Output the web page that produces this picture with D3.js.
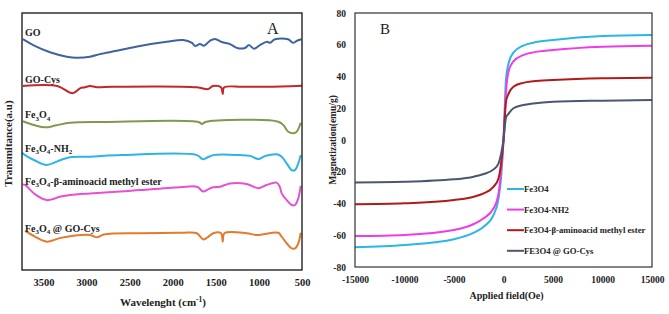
<!DOCTYPE html>
<html>
<head>
<meta charset="utf-8">
<script src="https://cdn.jsdelivr.net/npm/d3@7"></script>
<style>
  body { margin: 0; background: #fff; }
  svg { display: block; }
  text { font-family: "Liberation Serif", "Times New Roman", serif; }
</style>
</head>
<body>
<svg width="669" height="314"></svg>
<script>
// ---- panel A data: FTIR spectra, [wavenumber cm-1, transmittance a.u. (stacked)]
const ftirNames = ['GO', 'GO-Cys', 'Fe3O4', 'Fe3O4-NH2', 'Fe3O4-β-aminoacid methyl ester', 'Fe3O4 @ GO-Cys']
const ftirColors = ['#3d64a0', '#c2272b', '#80994c', '#2db4e6', '#e94fd4', '#e27b2c']

const goSpec = [[3740,89.8],[3620,87.5],[3425,84.7],[3230,83.0],[3115,82.6],[2960,83.0],[2845,84.0],[2650,85.3],
  [2380,87.2],[2070,88.8],[1880,89.5],[1777,88.4],[1742,87.2],[1684,87.9],[1637,87.3],[1569,89.2],[1510,89.9],
  [1429,88.7],[1336,87.9],[1243,86.3],[1162,86.4],[1115,87.5],[1057,86.1],[988,87.5],[906,88.8],[871,88.4],
  [813,89.8],[662,89.8],[604,88.4],[558,89.2],[505,89.8]]
const goCysSpec = [[3740,71.6],[3344,71.6],[3161,68.8],[3077,70.7],[3019,71.1],[2961,71.6],[2880,71.1],[2700,71.3],
  [1719,71.1],[1591,70.4],[1533,71.6],[1440,71.1],[1420,68.5],[1405,71.0],[1200,71.3],[906,71.3],[500,71.7]]
const fe3o4Spec = [[3738,57.9],[3600,56.3],[3483,55.5],[3350,56.3],[3193,57.3],[2800,57.6],[1700,57.6],[1661,56.8],
  [1620,57.6],[775,57.7],[717,56.4],[659,53.8],[601,53.2],[562,53.8],[515,57.3]]
const nh2Spec = [[3750,45.6],[3715,44.7],[3600,42.6],[3463,40.9],[3300,42.8],[3193,43.9],[2961,44.1],[2600,44.7],
  [1720,44.7],[1653,43.1],[1610,43.6],[1530,44.7],[1220,44.7],[1104,44.4],[1007,43.2],[930,44.3],[794,45.0],
  [736,44.1],[678,41.5],[620,38.9],[581,38.9],[543,41.5],[515,44.7]]
const esterSpec = [[3740,33.3],[3715,33.1],[3600,29.5],[3463,27.2],[3300,28.6],[3193,29.2],[2961,29.8],[2612,30.5],
  [2380,31.1],[1916,32.2],[1719,32.4],[1646,30.5],[1591,31.4],[1530,32.2],[1452,32.4],[1336,33.7],[1143,33.5],
  [1007,31.8],[910,33.1],[794,34.0],[756,32.2],[736,29.8],[678,27.2],[620,25.3],[581,25.3],[543,27.9],[515,32.7]]
const compSpec = [[3715,15.2],[3600,13.0],[3463,11.0],[3300,12.5],[2961,13.6],[2880,12.7],[2800,13.8],[2380,14.3],
  [1881,14.5],[1722,14.3],[1646,11.9],[1588,12.9],[1530,14.3],[1440,14.3],[1420,11.0],[1400,14.3],[1143,14.3],
  [1026,13.6],[775,14.5],[736,13.0],[678,10.4],[620,8.4],[581,8.4],[543,10.4],[515,14.5]]
const ftirSeries = [goSpec, goCysSpec, fe3o4Spec, nh2Spec, esterSpec, compSpec]
const ftirTicks = [3500, 3000, 2500, 2000, 1500, 1000, 500]

// ---- panel B data: magnetization curves
const fieldOe = [-15000,-10000,-5000,-3000,-2000,-1000,-500,-250,0,250,500,1000,2000,3000,5000,10000,15000]
const magFe3o4 = [-67.6,-66.1,-62.5,-58.4,-54.6,-47.2,-36.7,-24,0,38,48,55,59.5,61.3,63,65.5,66.1]
const magNh2   = [-60.5,-59.8,-56.7,-52.9,-49.3,-43,-33.6,-20,0,30,43,49.5,53.5,55.2,56.7,58.8,59.4]
const magEster = [-40.5,-39.9,-37.8,-35.7,-33.6,-29.4,-24.1,-15,0,24,29,33.5,36,37,37.8,38.9,39.2]
const magComp  = [-26.7,-26.3,-24.8,-23.1,-21.4,-18.5,-14.7,-9,0,14,16.5,20,22,23,24.1,24.8,25.2]
const magNames = ['Fe3O4', 'Fe3O4-NH2', 'Fe3O4-β-aminoacid methyl ester', 'FE3O4 @ GO-Cys']
const magColors = ['#2bb7e6', '#ef3ce6', '#b11a1a', '#4b5670']
const magSeries = [magFe3o4, magNh2, magEster, magComp]
const fieldTicks = [-15000, -10000, -5000, 0, 5000, 10000, 15000]
const magTicks = [-80, -60, -40, -20, 0, 20, 40, 60, 80]

const svg = d3.select('svg')
const plain = d => String(d)   // "-15000", no thousands comma, hyphen minus

const styleTicks = (axisG, size) => {
  axisG.select('.domain').remove()
  axisG.attr('font-family', '"Liberation Serif", serif')
  axisG.selectAll('text')
    .attr('font-size', size).attr('font-weight', 'bold').attr('fill', '#222')
}

// ================= panel A =================
const a = { left: 22, right: 302, top: 13, bottom: 270 }
const xA = d3.scaleLinear().domain([3750, 500]).range([a.left, a.right])
const yA = d3.scaleLinear().domain([0, 100]).range([a.bottom, a.top])

const gA = svg.append('g')

const xAxisAG = gA.append('g').attr('transform', `translate(0,${a.bottom})`)
  .call(d3.axisBottom(xA).tickValues(ftirTicks).tickFormat(plain).tickSize(0).tickPadding(9))
styleTicks(xAxisAG, 10.5)

const lineA = d3.line().x(d => xA(d[0])).y(d => yA(d[1])).curve(d3.curveCatmullRom)

gA.selectAll('path.spec').data(ftirSeries).enter().append('path')
  .attr('class', 'spec')
  .attr('d', lineA)
  .attr('fill', 'none')
  .attr('stroke', (d, i) => ftirColors[i])
  .attr('stroke-width', 2)

// labels with subscripted digits, lifted a little above where each trace starts
const labelLift = [3, 3, 3, 1, -0.5, -0.8]
ftirSeries.forEach((s, i) => {
  const t = gA.append('text')
    .attr('x', 25)
    .attr('y', yA(s[0][1]) - labelLift[i])
    .style('font-size', '10px')
    .style('font-weight', 'bold')
    .attr('fill', '#222')
  const parts = ftirNames[i].split(/(\d+)/).filter(p => p.length)
  let low = false
  parts.forEach(p => {
    const sub = /^\d+$/.test(p)
    const dy = sub && !low ? 2.5 : (!sub && low ? -2.5 : 0)
    t.append('tspan').attr('dy', dy).style('font-size', sub ? '7px' : null).text(p)
    low = sub
  })
})

gA.append('rect')
  .attr('x', a.left).attr('y', a.top)
  .attr('width', a.right - a.left).attr('height', a.bottom - a.top)
  .attr('fill', 'none').attr('stroke', '#111').attr('stroke-width', 1.3)

gA.append('text').attr('x', 267).attr('y', 34).style('font-size', '16px').attr('fill', '#222').text('A')

const titleA = gA.append('text')
  .attr('x', (a.left + a.right) / 2 + 1).attr('y', 306)
  .attr('text-anchor', 'middle')
  .style('font-size', '11px').style('font-weight', 'bold').attr('fill', '#222')
titleA.append('tspan').text('Wavelenght (cm')
titleA.append('tspan').attr('dy', -4).style('font-size', '7.5px').text('-1')
titleA.append('tspan').attr('dy', 4).text(')')

gA.append('text')
  .attr('transform', `translate(12,${(a.top + a.bottom) / 2 + 2}) rotate(-90)`)
  .attr('text-anchor', 'middle')
  .style('font-size', '11px').style('font-weight', 'bold').attr('fill', '#222')
  .text('Transmitance(a.u)')

// ================= panel B =================
const b = { left: 355, right: 652, top: 13, bottom: 267 }
const xB = d3.scaleLinear().domain([-15000, 15000]).range([b.left, b.right])
const yB = d3.scaleLinear().domain([-80, 80]).range([b.bottom, b.top])

const gB = svg.append('g')

const xAxisBG = gB.append('g').attr('transform', `translate(0,${b.bottom})`)
  .call(d3.axisBottom(xB).tickValues(fieldTicks).tickFormat(plain).tickSize(0).tickPadding(9))
styleTicks(xAxisBG, 9.5)

const yAxisBG = gB.append('g').attr('transform', `translate(${b.left},0)`)
  .call(d3.axisLeft(yB).tickValues(magTicks).tickFormat(plain).tickSize(0).tickPadding(9))
styleTicks(yAxisBG, 9.5)

const lineB = d3.line().x((d, i) => xB(fieldOe[i])).y(d => yB(d)).curve(d3.curveMonotoneX)

gB.selectAll('path.mag').data(magSeries).enter().append('path')
  .attr('class', 'mag')
  .attr('d', lineB)
  .attr('fill', 'none')
  .attr('stroke', (d, i) => magColors[i])
  .attr('stroke-width', 2)

const legend = gB.append('g').attr('transform', 'translate(507,189)')
magNames.forEach((n, i) => {
  const row = legend.append('g').attr('transform', `translate(0,${i * 20.6})`)
  row.append('line').attr('x1', 0).attr('x2', 17).attr('stroke', magColors[i]).attr('stroke-width', 2)
  row.append('text').attr('x', 17).attr('y', 3.2)
    .style('font-size', '8.7px').style('font-weight', 'bold').attr('fill', '#222').text(n)
})

gB.append('rect')
  .attr('x', b.left).attr('y', b.top)
  .attr('width', b.right - b.left).attr('height', b.bottom - b.top)
  .attr('fill', 'none').attr('stroke', '#333').attr('stroke-width', 1.2)

gB.append('text').attr('x', 380).attr('y', 34).style('font-size', '15px').attr('fill', '#222').text('B')

gB.append('text')
  .attr('x', (b.left + b.right) / 2 + 3).attr('y', 299)
  .attr('text-anchor', 'middle')
  .style('font-size', '10px').style('font-weight', 'bold').attr('fill', '#222')
  .text('Applied field(Oe)')

gB.append('text')
  .attr('transform', `translate(336,${(b.top + b.bottom) / 2}) rotate(-90)`)
  .attr('text-anchor', 'middle')
  .style('font-size', '9.5px').style('font-weight', 'bold').attr('fill', '#222')
  .text('Magnetization(emu/g)')
</script>
</body>
</html>
